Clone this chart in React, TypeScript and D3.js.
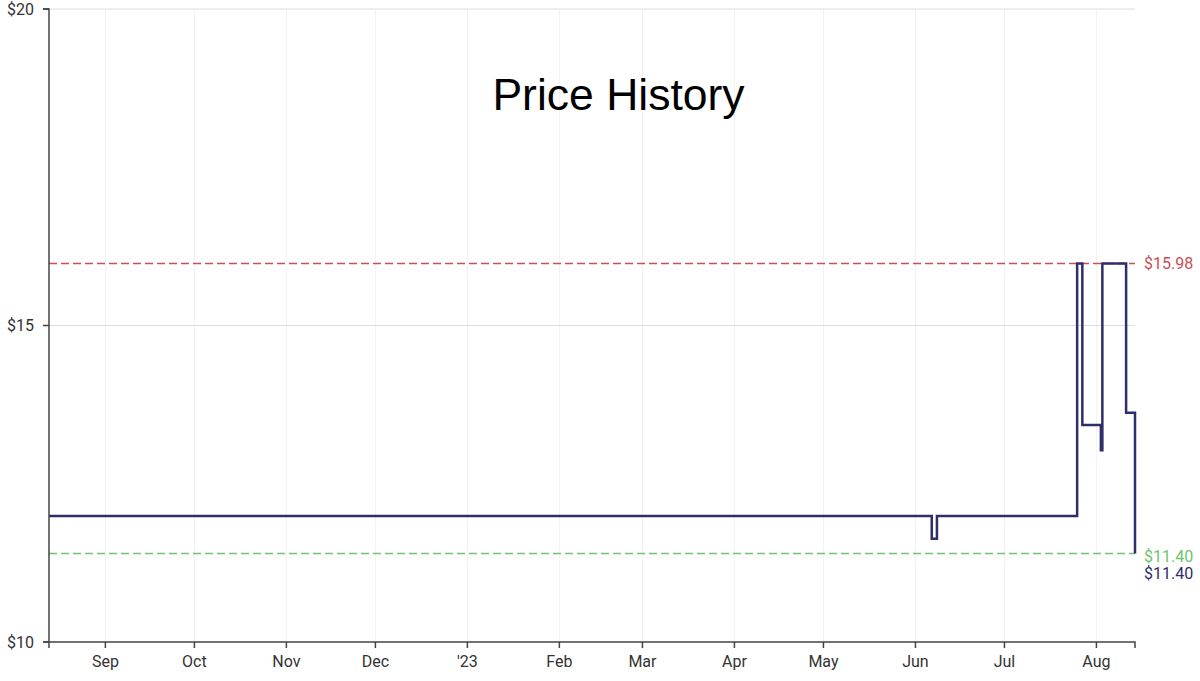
import React from "react";
import * as d3 from "d3";

const W = 1200;
const H = 681;
const M = { left: 49, right: 1135, top: 9, bottom: 642 };

const priceDates = [
  "2022-08-13T00:00",
  "2023-06-06T12:00",
  "2023-06-08T06:00",
  "2023-07-25T12:00",
  "2023-07-27T06:00",
  "2023-08-02T12:00",
  "2023-08-03T00:00",
  "2023-08-11T00:00",
  "2023-08-14T00:00",
];
const priceValues = [11.99, 11.63, 11.99, 15.98, 13.43, 13.03, 15.98, 13.62, 11.4];

const highPrice = 15.98;
const lowPrice = 11.4;
const currentPrice = 11.4;
const yTicks = [10, 15, 20];
const domainStart = "2022-08-13T00:00";
const domainEnd = "2023-08-14T00:00";

const LINE = "#2e2e6b";
const RED = "#c85050";
const GREEN = "#6cc46c";

export default function App() {
  const parse = (s: string) => new Date(s);
  const x = d3.scaleTime().domain([parse(domainStart), parse(domainEnd)]).range([M.left, M.right]);
  const y = d3.scaleLinear().domain([10, 20]).range([M.bottom, M.top]);

  const pts = priceDates.map((d, i) => ({ d: parse(d), v: priceValues[i] }));
  const line = d3
    .line<{ d: Date; v: number }>()
    .x((p) => x(p.d))
    .y((p) => y(p.v))
    .curve(d3.curveStepAfter);

  const monthTicks = d3.timeMonth.range(d3.timeMonth.ceil(parse(domainStart)), parse(domainEnd));
  const fmt = (d: Date) => (d.getMonth() === 0 ? "'" + d3.timeFormat("%y")(d) : d3.timeFormat("%b")(d));

  const font = "Roboto, 'Noto Sans', sans-serif";

  return (
    <svg width={W} height={H} style={{ position: "fixed", left: 0, top: 0, background: "#fff" }}>
      {monthTicks.map((t, i) => (
        <line key={"vg" + i} x1={x(t)} x2={x(t)} y1={M.top} y2={M.bottom} stroke="#f2f2f2" strokeWidth={1} />
      ))}
      {yTicks.slice(1).map((t) => (
        <line key={"hg" + t} x1={M.left} x2={M.right} y1={y(t)} y2={y(t)} stroke="#dcdcdc" strokeWidth={1} />
      ))}
      <text x={618.5} y={110} textAnchor="middle" fontFamily="'Liberation Sans', Arial, sans-serif" fontSize={44.5} fill="#000">
        Price History
      </text>
      <line x1={M.left} x2={M.right} y1={y(highPrice)} y2={y(highPrice)} stroke={RED} strokeWidth={1.5} strokeDasharray="8,4" />
      <line x1={M.left} x2={M.right} y1={y(lowPrice)} y2={y(lowPrice)} stroke={GREEN} strokeWidth={1.5} strokeDasharray="8,4" />
      <path d={line(pts) || ""} fill="none" stroke={LINE} strokeWidth={2.5} />
      <text x={1144} y={y(highPrice)} dy="0.35em" fontFamily={font} fontSize={16} fill={RED}>
        ${highPrice.toFixed(2)}
      </text>
      <text x={1144} y={y(lowPrice) + 3} dy="0.35em" fontFamily={font} fontSize={16} fill={GREEN}>
        ${lowPrice.toFixed(2)}
      </text>
      <text x={1144} y={y(currentPrice) + 20} dy="0.35em" fontFamily={font} fontSize={16} fill={LINE}>
        ${currentPrice.toFixed(2)}
      </text>
      <path d={`M${M.left - 6},${M.top}H${M.left}V${M.bottom}H${M.left - 6}`} fill="none" stroke="#444" strokeWidth={1.5} />
      {yTicks.map((t) => (
        <g key={"yt" + t}>
          <line x1={M.left - 6} x2={M.left} y1={y(t)} y2={y(t)} stroke="#444" strokeWidth={1.5} />
          <text x={M.left - 15} y={y(t)} dy="0.35em" textAnchor="end" fontFamily={font} fontSize={16} fill="#333">
            ${t}
          </text>
        </g>
      ))}
      <path d={`M${M.left},${M.bottom + 6}V${M.bottom}H${M.right}V${M.bottom + 6}`} fill="none" stroke="#444" strokeWidth={1.5} />
      {monthTicks.map((t, i) => (
        <g key={"xt" + i}>
          <line x1={x(t)} x2={x(t)} y1={M.bottom} y2={M.bottom + 6} stroke="#444" strokeWidth={1.5} />
          <text x={x(t)} y={M.bottom + 25} textAnchor="middle" fontFamily={font} fontSize={16} fill="#333">
            {fmt(t)}
          </text>
        </g>
      ))}
    </svg>
  );
}
